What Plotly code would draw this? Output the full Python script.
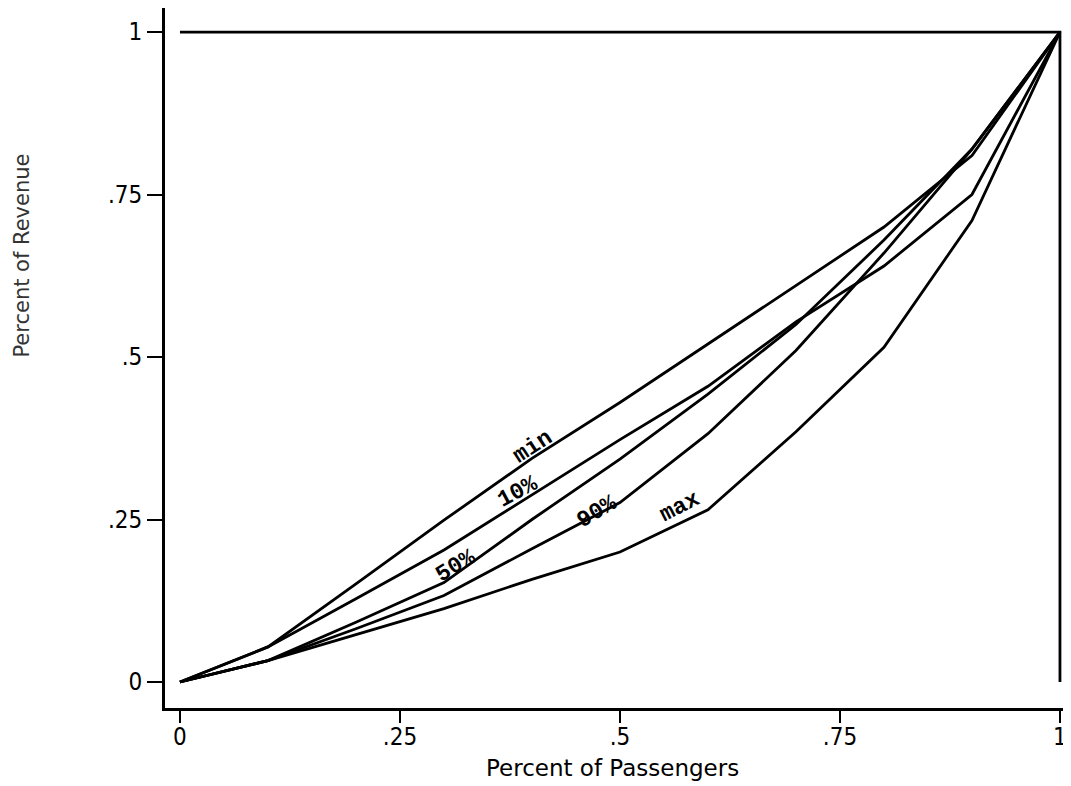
import plotly.graph_objects as go

# Deciles of passengers
pct_passengers = [0, .1, .2, .3, .4, .5, .6, .7, .8, .9, 1]

# Cumulative share of revenue for each curve
rev_min = [0, .054, .151, .249, .344, .430, .520, .610, .700, .810, 1]
rev_p10 = [0, .054, .128, .203, .288, .373, .455, .554, .640, .750, 1]
rev_p50 = [0, .033, .092, .153, .250, .343, .443, .550, .680, .820, 1]
rev_p90 = [0, .033, .082, .133, .205, .276, .382, .510, .660, .820, 1]
rev_max = [0, .033, .073, .113, .158, .200, .265, .385, .515, .710, 1]

# Bounding line (top and right)
bound_x = [0, 1, 1]
bound_y = [1, 1, 0]

# Curve labels
label_text = ["min", "10%", "50%", "90%", "max"]
label_x = [.401, .384, .314, .474, .568]
label_y = [.362, .292, .178, .262, .270]
label_angle = [-33, -28, -31, -31, -27]

tick_vals = [0, .25, .5, .75, 1]
tick_text = ["0", ".25", ".5", ".75", "1"]

line_style = dict(color="black", width=2.8)
tick_font = dict(family="Liberation Sans Narrow, DejaVu Sans Condensed, Liberation Sans",
                 size=24, color="black")

fig = go.Figure()
fig.add_trace(go.Scatter(x=bound_x, y=bound_y, mode="lines", line=line_style, showlegend=False))
for ys in [rev_min, rev_p10, rev_p50, rev_p90, rev_max]:
    fig.add_trace(go.Scatter(x=pct_passengers, y=ys, mode="lines", line=line_style, showlegend=False))

for t, x, y, a in zip(label_text, label_x, label_y, label_angle):
    fig.add_annotation(x=x, y=y, text="<b>" + t + "</b>", showarrow=False, textangle=a,
                       font=dict(family="Liberation Mono", size=23, color="black"))

fig.add_annotation(xref="paper", yref="paper", x=-0.158, y=0.647, xanchor="center", yanchor="middle",
                   text="Percent of Revenue", showarrow=False, textangle=-90,
                   font=dict(family="DejaVu Sans", size=21, color="#333333"))

fig.add_annotation(xref="paper", yref="paper", x=0.4956, y=-0.0857, xanchor="center", yanchor="middle",
                   text="Percent of Passengers", showarrow=False,
                   font=dict(family="DejaVu Sans", size=23, color="black"))

axis_common = dict(showline=True, linecolor="black", linewidth=2.8, ticks="outside",
                   tickwidth=2, tickcolor="black", showgrid=False, zeroline=False,
                   tickvals=tick_vals, ticktext=tick_text, tickfont=tick_font)

fig.update_xaxes(range=[-0.017, 1.008], ticklen=12, ticklabelstandoff=-7, **axis_common)
fig.update_yaxes(range=[-0.04, 1.037], ticklen=15, **axis_common)

# The page adds an 8px body margin, so the figure is sized to fit the window.
fig.update_layout(width=1063, height=778, margin=dict(l=157, r=4, t=0, b=78),
                  plot_bgcolor="white", paper_bgcolor="white")

fig.write_html("out.html")
